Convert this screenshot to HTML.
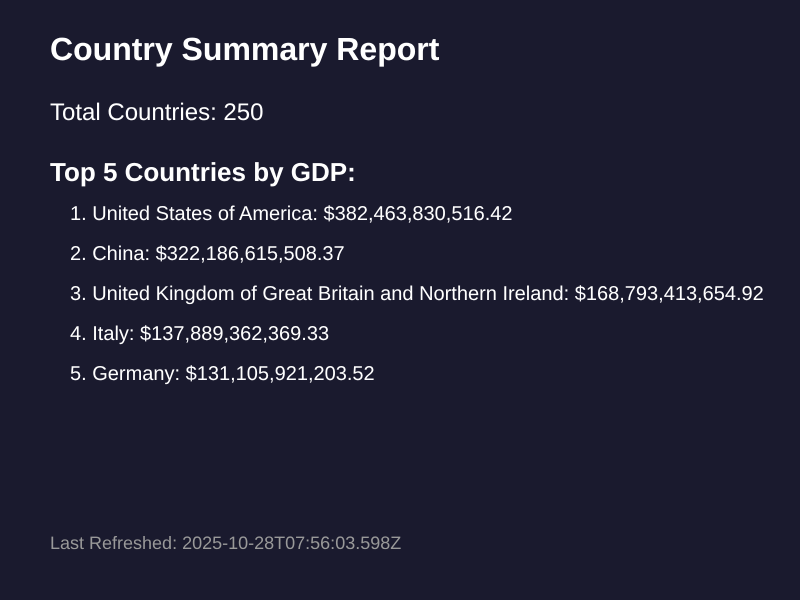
<!DOCTYPE html>
<html lang="en">
<head>
<meta charset="utf-8">
<title>Country Summary Report</title>
<style>
html,body{margin:0;padding:0;}
body{width:800px;height:600px;background:#1a1a2e;color:#fff;font-family:"Liberation Sans",Arial,sans-serif;position:relative;overflow:hidden;text-rendering:geometricPrecision;}
.abs{position:absolute;white-space:nowrap;margin:0;}
#title{left:50px;top:31px;font-size:32px;line-height:36px;font-weight:bold;}
#total{left:50px;top:99px;font-size:24px;line-height:27px;font-weight:normal;}
#sub{left:50px;top:157px;font-size:26px;line-height:30px;font-weight:bold;}
ol{margin:0;padding:0;list-style:none;}
.li{font-size:20px;line-height:22px;left:70px;}
#footer{left:50px;top:533px;font-size:18px;line-height:20px;color:#999;}
</style>
</head>
<body>
<h1 class="abs" id="title">Country Summary Report</h1>
<p class="abs" id="total">Total Countries: 250</p>
<h2 class="abs" id="sub">Top 5 Countries by GDP:</h2>
<ol>
<li class="abs li" style="top:203px">1. United States of America: $382,463,830,516.42</li>
<li class="abs li" style="top:243px">2. China: $322,186,615,508.37</li>
<li class="abs li" style="top:283px">3. United Kingdom of Great Britain and Northern Ireland: $168,793,413,654.92</li>
<li class="abs li" style="top:323px">4. Italy: $137,889,362,369.33</li>
<li class="abs li" style="top:363px">5. Germany: $131,105,921,203.52</li>
</ol>
<p class="abs" id="footer">Last Refreshed: 2025-10-28T07:56:03.598Z</p>
</body>
</html>
